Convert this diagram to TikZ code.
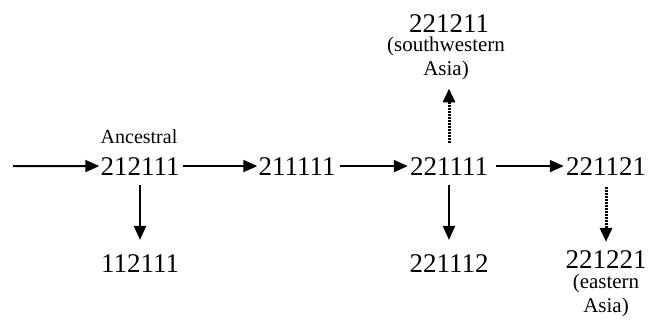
\documentclass[tikz,border=0pt]{standalone}
\usepackage{fontspec}
\setmainfont{Liberation Serif}
\usetikzlibrary{arrows.meta}
\tikzset{
  hap/.style={font=\fontsize{27}{27}\selectfont, inner sep=0pt, anchor=base},
  note/.style={font=\fontsize{21}{24}\selectfont, inner sep=0pt, align=center, anchor=base},
  link/.style={line width=2pt, -{Triangle[length=14pt,width=12pt]}},
  dotlink/.style={line width=3pt, dash pattern=on 1.5pt off 1.5pt, -{Triangle[length=14pt,width=12pt]}}
}
\begin{document}
\begin{tikzpicture}[x=1pt,y=-1pt]
\useasboundingbox (0,0) rectangle (654,322);
% main lineage
\node[hap] (a) at (140,175) {212111};
\node[hap] (b) at (297,175) {211111};
\node[hap] (c) at (449,175) {221111};
\node[hap] (d) at (606,175) {221121};
% side branches
\node[hap] (e) at (140,272) {112111};
\node[hap] (f) at (449,272) {221112};
\node[hap] (g) at (606,268) {221221};
\node[hap] (h) at (449,32) {221211};
% labels
\node[note, font=\fontsize{20}{20}\selectfont] (anc) at (139,143) {Ancestral};
\node[note, anchor=north] (sw) at (446,37) {(southwestern\\Asia)};
\node[note, anchor=north] (ea) at (606,274) {(eastern\\Asia)};
\coordinate (in) at (13,166);
% connectors
\draw[link, shorten >=1pt] (in) -- (a.west);
\draw[link, shorten <=3pt, shorten >=1pt] (a.east) -- (b.west);
\draw[link, shorten <=4pt, shorten >=2pt] (b.east) -- (c.west);
\draw[link, shorten <=8pt, shorten >=2pt] (c.east) -- (d.west);
\draw[link, shorten <=10pt, shorten >=14pt] (a.south) -- (e.north);
\draw[link, shorten <=10pt, shorten >=14pt] (c.south) -- (f.north);
\draw[dotlink, shorten <=12pt, shorten >=8pt] (d.south) -- (g.north);
\draw[dotlink, shorten <=14pt, shorten >=8pt] (c.north) -- (sw.south -| c.north);
\end{tikzpicture}
\end{document}
